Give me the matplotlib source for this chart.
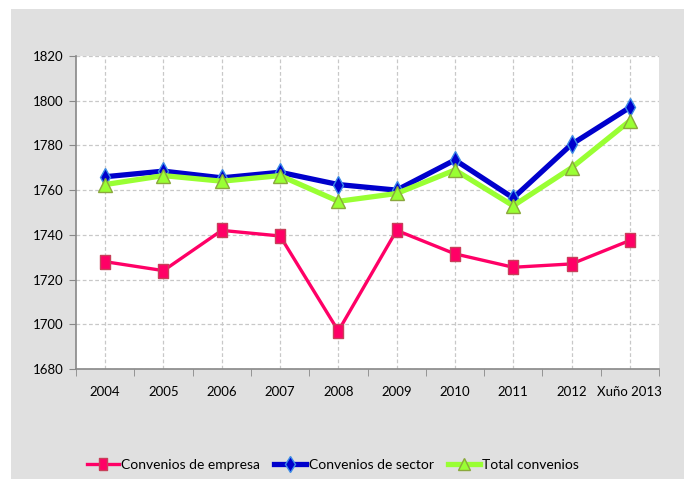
import matplotlib
matplotlib.use("Agg")
import matplotlib.pyplot as plt
from matplotlib.patches import Rectangle

categories = ["2004", "2005", "2006", "2007", "2008", "2009", "2010", "2011", "2012", "Xuño 2013"]
empresa = [1728, 1724, 1742, 1739.5, 1697, 1742, 1731.5, 1725.5, 1727, 1737.5]
sector = [1766, 1768.5, 1765.5, 1768, 1762.5, 1760, 1773.5, 1756.5, 1780.5, 1797]
total = [1762.5, 1766.5, 1764, 1766.5, 1755, 1758.5, 1769, 1753, 1770, 1791]
yticks = [1680, 1700, 1720, 1740, 1760, 1780, 1800, 1820]

plt.rcParams['font.family'] = ['Lato', 'DejaVu Sans']

fig = plt.figure(figsize=(6.84, 4.79), dpi=100)
fig.patch.set_facecolor('white')
fig.patches.append(Rectangle((11/684, 0), 1 - 11/684, 1 - 9/479, transform=fig.transFigure,
                             facecolor='#E0E0E0', edgecolor='none', zorder=-10))

ax = fig.add_axes([76/684, 1 - 369/479, (659 - 76)/684, (369 - 56)/479])
ax.set_facecolor('white')
x = list(range(len(categories)))

tall_rect = [(-0.65, -1), (0.65, -1), (0.65, 1), (-0.65, 1), (-0.65, -1)]

ax.plot(x, empresa, color='#FF0066', lw=2.4, marker=tall_rect, markersize=10,
        markerfacecolor='#FF0066', markeredgecolor='#C8405A', markeredgewidth=1,
        label='Convenios de empresa', zorder=3)
ax.plot(x, sector, color='#0000CC', lw=3.8, marker='d', markersize=9,
        markerfacecolor='#0000CC', markeredgecolor='#3C8CE6', markeredgewidth=1,
        label='Convenios de sector', zorder=4)
ax.plot(x, total, color='#99FF33', lw=3.8, marker='^', markersize=10,
        markerfacecolor='#99FF33', markeredgecolor='#8AA83C', markeredgewidth=1,
        label='Total convenios', zorder=5)

ax.set_xlim(-0.5, len(categories) - 0.5)
ax.set_ylim(1680, 1820)
ax.set_yticks(yticks)
ax.set_xticks(x)
ax.set_xticklabels(categories)
ax.set_xticks([i - 0.5 for i in range(len(categories) + 1)], minor=True)
ax.tick_params(axis='x', which='major', length=0, pad=12, labelsize=9.5, colors='black')
ax.tick_params(axis='x', which='minor', length=5, color='#888888', direction='out')
ax.tick_params(axis='y', length=5, color='#888888', labelsize=9.5, pad=4)

ax.grid(True, which='major', axis='both', linestyle=(0, (3, 2)), color='#C8C8C8', lw=0.9)
ax.set_axisbelow(True)
for s in ['top', 'right']:
    ax.spines[s].set_visible(False)
for s in ['left', 'bottom']:
    ax.spines[s].set_color('#888888')
    ax.spines[s].set_linewidth(1.2)

fig.legend(loc='center', bbox_to_anchor=(333/684, 1 - 465/479), ncol=3, frameon=False,
           fontsize=10, handlelength=2.3, handletextpad=0.2, columnspacing=1.0,
           markerscale=0.85)

fig.savefig('out.png', dpi=100)
